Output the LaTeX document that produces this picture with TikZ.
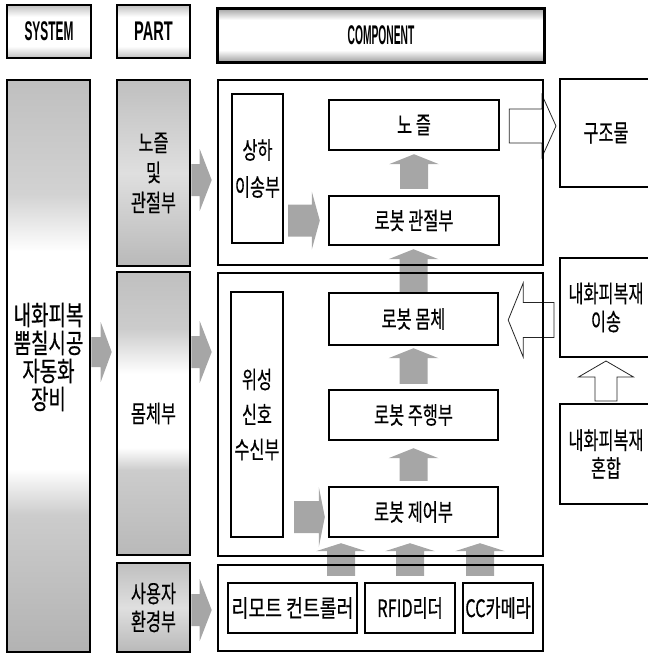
\documentclass[tikz,border=0pt]{standalone}
\usepackage{fontspec}
\usepackage{graphicx}
\usetikzlibrary{arrows.meta,calc,backgrounds}
\newfontfamily\kr[FakeStretch=0.68, FakeBold=0.4]{Noto Sans CJK KR}
\newfontfamily\hdrfont{Liberation Sans}

\pgfdeclareverticalshading{tallshade}{100bp}{color(0bp)=(gray!60); color(25bp)=(gray!60); color(37bp)=(gray!40); color(41bp)=(white); color(60bp)=(white); color(65bp)=(gray!35); color(75bp)=(gray!50); color(100bp)=(gray!50)}
\pgfdeclareverticalshading{bodyshade}{100bp}{color(0bp)=(gray!55); color(25bp)=(gray!55); color(40bp)=(gray!40); color(44bp)=(white); color(57bp)=(white); color(65bp)=(gray!40); color(75bp)=(gray!50); color(100bp)=(gray!50)}
\pgfdeclareverticalshading{hdrshade}{100bp}{color(0bp)=(gray!50); color(25bp)=(gray!50); color(36bp)=(white); color(64bp)=(white); color(75bp)=(gray!50); color(100bp)=(gray!50)}
\pgfdeclareverticalshading{compshade}{100bp}{color(0bp)=(gray!75); color(25bp)=(gray!75); color(36bp)=(white); color(64bp)=(white); color(75bp)=(gray!75); color(100bp)=(gray!75)}
\pgfdeclareverticalshading{partshade}{100bp}{color(0bp)=(gray!55); color(25bp)=(gray!55); color(50bp)=(gray!25); color(75bp)=(gray!50); color(100bp)=(gray!50)}

\newcommand\arrRight[6]{\path[#1] let \p1=(#2), \p2=(#3) in (\x1,\y1+#4) -- (\x2-#6,\y1+#4) -- (\x2-#6,\y1+#5) -- (\x2,\y1) -- (\x2-#6,\y1-#5) -- (\x2-#6,\y1-#4) -- (\x1,\y1-#4) -- cycle;}
\newcommand\arrLeft[6]{\path[#1] let \p1=(#2), \p2=(#3) in (\x1,\y1+#4) -- (\x2+#6,\y1+#4) -- (\x2+#6,\y1+#5) -- (\x2,\y1) -- (\x2+#6,\y1-#5) -- (\x2+#6,\y1-#4) -- (\x1,\y1-#4) -- cycle;}
\newcommand\arrUp[6]{\path[#1] let \p1=(#2), \p2=(#3) in (\x1-#4,\y1) -- (\x1-#4,\y2-#6) -- (\x1-#5,\y2-#6) -- (\x1,\y2) -- (\x1+#5,\y2-#6) -- (\x1+#4,\y2-#6) -- (\x1+#4,\y1) -- cycle;}

\tikzset{
 kbox/.style={draw, line width=2.4pt, fill=white, inner sep=0pt, align=center, font=\kr\fontsize{24}{28}\selectfont},
 sidebox/.style={draw, line width=2pt, fill=white, inner sep=0pt, align=center, font=\kr\fontsize{24}{28}\selectfont},
 framebox/.style={draw, line width=2.6pt, inner sep=0pt},
 partbox/.style={draw, line width=2.6pt, inner sep=0pt, align=center, font=\kr\fontsize{24}{28}\selectfont},
 hdrbox/.style={draw, line width=2.6pt, inner sep=0pt, shading=hdrshade, font=\hdrfont\bfseries\fontsize{27}{27}\selectfont},
 grayarrow/.style={fill=gray!70},
 hollowarrow/.style={draw=black!85, line width=0.8pt, fill=white},
}

\begin{document}
\begin{tikzpicture}[x=1pt,y=-1pt]
\useasboundingbox (0,0) rectangle (648,654);
\clip (0,0) rectangle (648,654);

% headers
\node[hdrbox, minimum width=84pt, minimum height=53pt] (hsys) at (49,31.5) {\scalebox{0.44}[1]{SYSTEM}};
\node[hdrbox, minimum width=73pt, minimum height=53pt] (hpart) at (153.5,31.5) {\scalebox{0.54}[1]{PART}};
\node[hdrbox, shading=compshade, line width=3pt, minimum width=327pt, minimum height=54pt] (hcomp) at (381,35) {\scalebox{0.38}[1]{COMPONENT}};

% system column
\node[partbox, shading=tallshade, minimum width=83pt, minimum height=572pt,
  label={[font=\kr\fontsize{27}{28}\selectfont, align=center, yshift=9pt]center:{\scalebox{1.03}[1]{내화피복}\\\scalebox{1.03}[1]{뿜칠시공}\\\scalebox{1.03}[1]{자동화}\\\scalebox{1.03}[1]{장비}}}] (tall) at (48.5,366) {};

% part column
\node[partbox, shading=partshade, minimum width=73pt, minimum height=186pt] (nozpart) at (153.5,173) {노즐\\[2pt]및\\[2pt]관절부};
\node[partbox, shading=bodyshade, minimum width=73pt, minimum height=283pt] (bodypart) at (153.5,413.5) {몸체부};
\node[partbox, shading=partshade, minimum width=73pt, minimum height=89pt] (userpart) at (153.5,607.5) {사용자\\환경부};

% frames
\node[framebox, minimum width=325pt, minimum height=185pt] (frame1) at (380.5,172.5) {};
\node[framebox, minimum width=325pt, minimum height=283pt] (frame2) at (380.5,414.5) {};
\node[framebox, minimum width=325pt, minimum height=86pt] (frame3) at (380.5,608) {};

% components
\node[kbox, minimum width=51pt, minimum height=149pt] (updown) at (257.5,168.5) {상하\\[9pt]이송부};
\node[kbox, minimum width=170pt, minimum height=50pt] (nozzle) at (414,125) {노 즐};
\node[kbox, minimum width=170pt, minimum height=49pt] (joint) at (414,220.5) {로봇 관절부};
\node[kbox, minimum width=52pt, minimum height=245pt] (sat) at (257,414.5) {위성\\[7pt]신호\\[7pt]수신부};
\node[kbox, minimum width=169pt, minimum height=52pt] (body) at (413.5,319) {로봇 몸체};
\node[kbox, minimum width=169pt, minimum height=50pt] (drive) at (413.5,415) {로봇 주행부};
\node[kbox, minimum width=169pt, minimum height=50pt] (control) at (413.5,512) {로봇 제어부};
\node[kbox, minimum width=129pt, minimum height=50pt] (remote) at (292.5,608) {\scalebox{1.12}[1]{리모트 컨트롤러}};
\node[kbox, minimum width=90pt, minimum height=50pt] (rfid) at (410,608) {RFID리더};
\node[kbox, minimum width=70pt, minimum height=50pt] (cc) at (498,608) {CC카메라};

% right side
\node[sidebox, minimum width=92pt, minimum height=108pt] (struct) at (606,133) {구조물};
\node[sidebox, minimum width=92pt, minimum height=99pt] (transfer) at (606,307.5) {내화피복재\\이송};
\node[sidebox, minimum width=92pt, minimum height=100pt] (mix) at (606,454) {내화피복재\\혼합};

\begin{pgfonlayer}{background}
\arrRight{grayarrow}{[yshift=14pt]tall.east}{[xshift=-4pt]bodypart.west}{15pt}{30pt}{11pt}
\arrRight{grayarrow}{[yshift=-7pt]nozpart.east}{[xshift=-5pt]frame1.west}{16pt}{31pt}{12pt}
\arrRight{grayarrow}{[yshift=61.5pt]bodypart.east}{[xshift=-5pt]frame2.west}{16pt}{31pt}{12pt}
\arrRight{grayarrow}{[yshift=-2.5pt]userpart.east}{[xshift=-5pt]frame3.west}{16pt}{31pt}{12pt}
\arrRight{grayarrow}{$(updown.east |- joint.west)+(4,0)$}{[xshift=-8pt]joint.west}{16pt}{29pt}{8pt}
\arrRight{grayarrow}{$(sat.east |- control.west)+(10,5)$}{[xshift=-3pt]control.west}{16pt}{30pt}{6pt}
\arrUp{grayarrow}{[yshift=6pt]joint.north}{[yshift=-3pt]nozzle.south}{14pt}{25pt}{10pt}
\arrUp{grayarrow}{body.north}{[yshift=-3pt]joint.south}{14pt}{25pt}{10pt}
\arrUp{grayarrow}{[yshift=5pt]drive.north}{[yshift=-2pt]body.south}{14pt}{25pt}{10pt}
\arrUp{grayarrow}{[yshift=5pt]control.north}{[yshift=-7pt]drive.south}{14pt}{25pt}{10pt}
\arrUp{grayarrow}{[xshift=48.5pt,yshift=6pt]remote.north}{[yshift=-5pt]control.south}{14pt}{25pt}{8pt}
\arrUp{grayarrow}{[yshift=6pt]rfid.north}{[yshift=-5pt]control.south}{14pt}{25pt}{8pt}
\arrUp{grayarrow}{[xshift=-18pt,yshift=6pt]cc.north}{[yshift=-5pt]control.south}{14pt}{25pt}{8pt}
\arrRight{hollowarrow}{[xshift=9pt,yshift=-1pt]nozzle.east}{[xshift=-3pt]struct.west}{17pt}{31pt}{14pt}
\arrLeft{hollowarrow}{$(transfer.west |- body.east)+(-5,1)$}{[xshift=9pt]body.east}{17.5pt}{37pt}{15pt}
\arrUp{hollowarrow}{[yshift=2pt]mix.north}{[yshift=-3pt]transfer.south}{11pt}{27.5pt}{16pt}
\end{pgfonlayer}
\end{tikzpicture}
\end{document}
